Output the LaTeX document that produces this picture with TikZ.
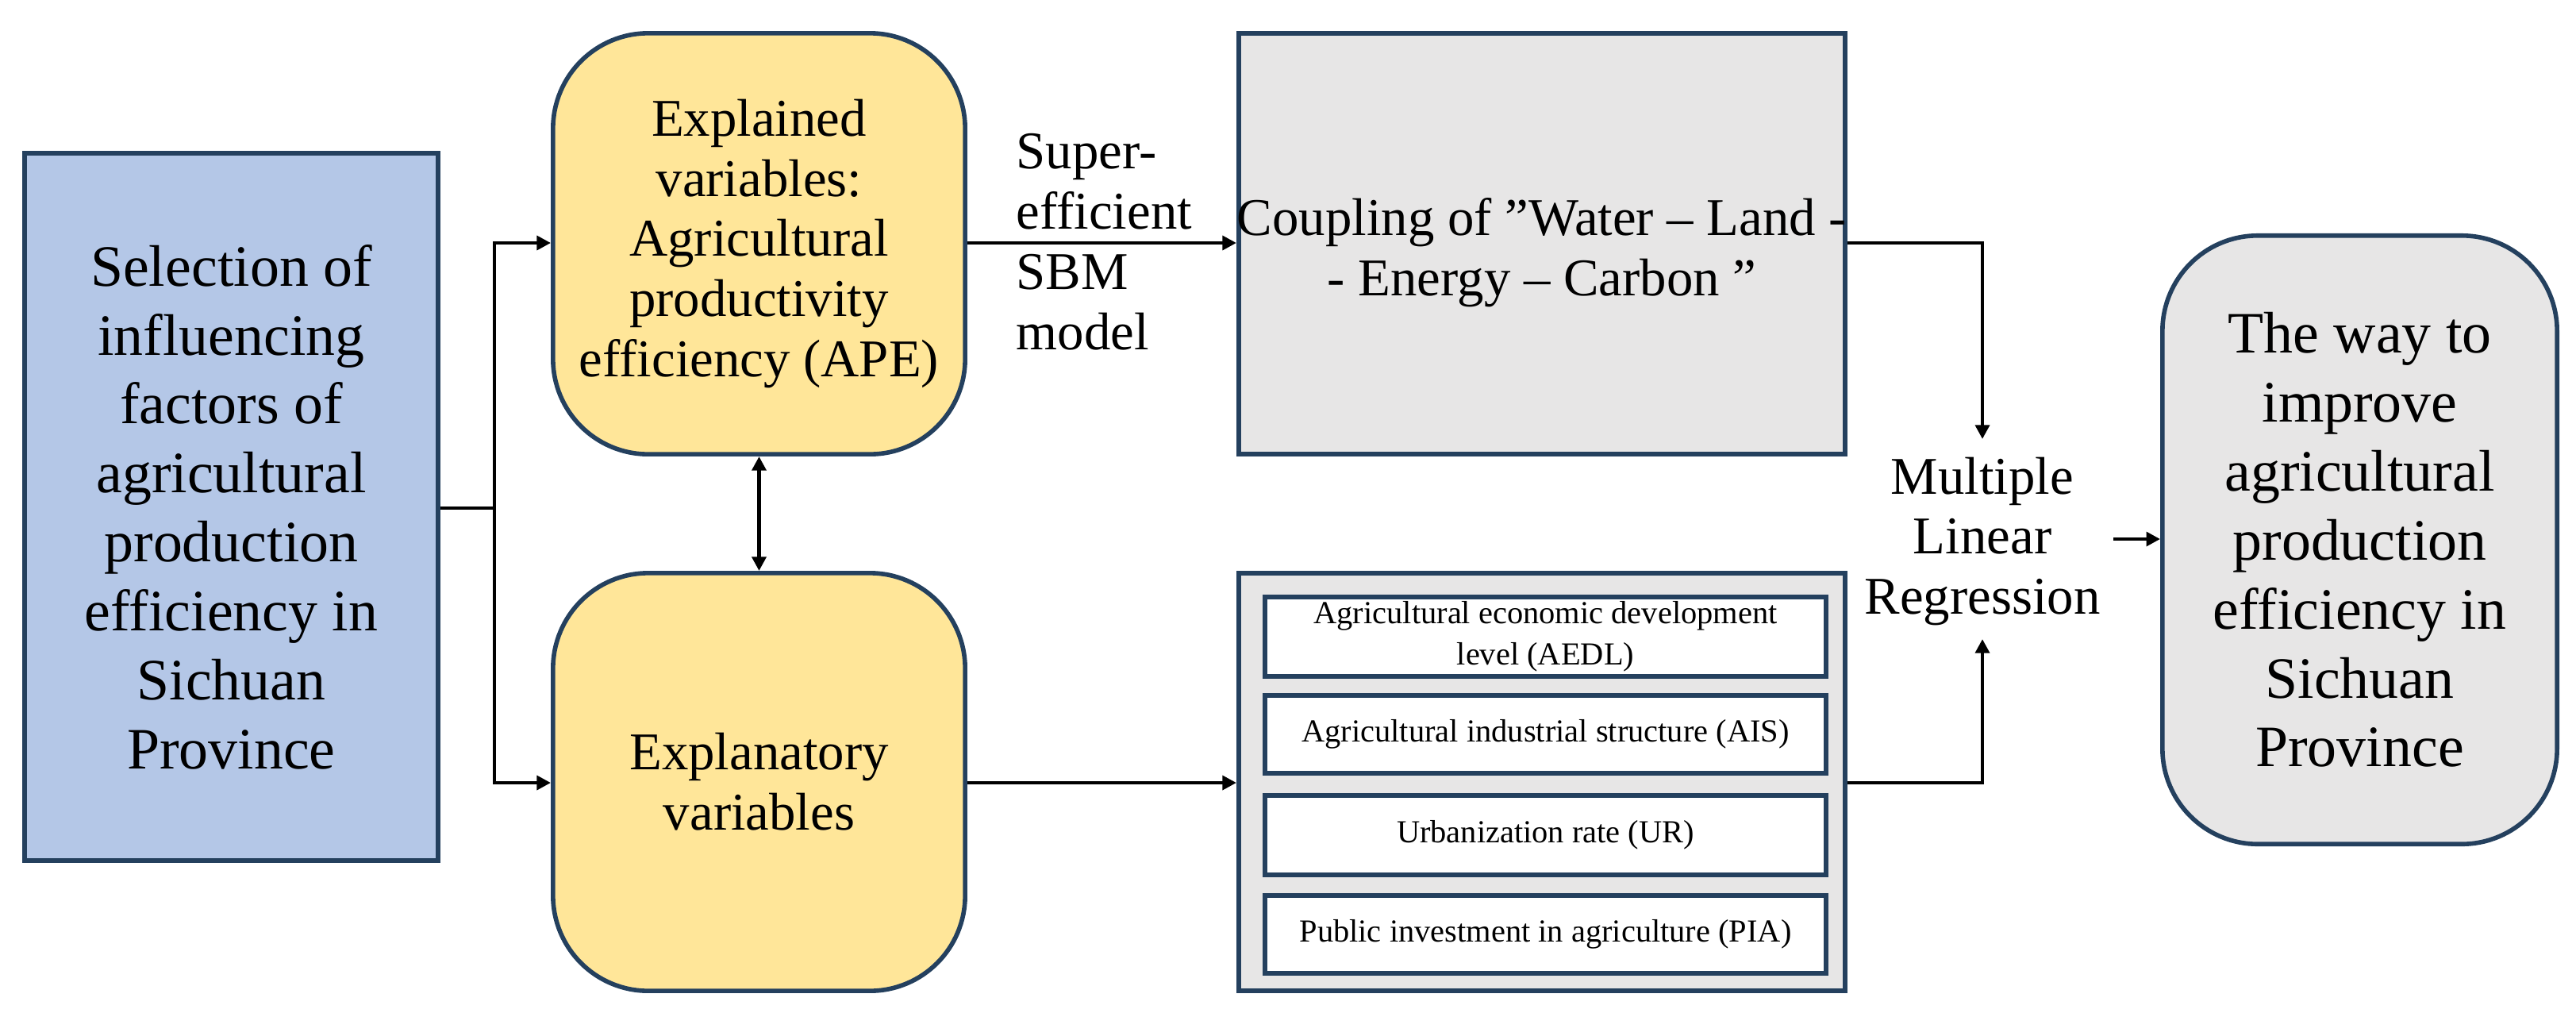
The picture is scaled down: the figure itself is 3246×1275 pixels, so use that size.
\documentclass[tikz,border=0pt]{standalone}
\usepackage{fontspec}
\setmainfont{Liberation Serif}
\usetikzlibrary{arrows.meta}
\definecolor{bordc}{HTML}{24405E}
\definecolor{bluef}{HTML}{B4C7E7}
\definecolor{yelf}{HTML}{FFE699}
\definecolor{grayf}{HTML}{E7E6E6}
\tikzset{
 box/.style={draw=bordc,line width=1.6pt,align=center,inner sep=0pt},
 conn/.style={line width=1.3pt,-{Triangle[length=5pt,width=5pt]}},
 bigtxt/.style={font=\fontsize{21}{24.7}\selectfont},
 midtxt/.style={font=\fontsize{19}{21.6}\selectfont},
 smalltxt/.style={font=\fontsize{11.5}{14.8}\selectfont},
}
\begin{document}
\begin{tikzpicture}[x=0.01cm,y=-0.01cm]
\useasboundingbox (0,0) rectangle (3246,1275);
\node[box,fill=bluef,bigtxt,minimum width=5.21cm,minimum height=8.91cm] (sel) at (291.5,638.5)
 {Selection of\\influencing\\factors of\\agricultural\\production\\efficiency in\\Sichuan\\Province};
\node[box,fill=yelf,midtxt,rounded corners=1.2cm,minimum width=5.19cm,minimum height=5.30cm] (ape) at (956.5,307)
 {Explained\\variables:\\Agricultural\\productivity\\efficiency (APE)};
\node[box,fill=yelf,midtxt,rounded corners=1.2cm,minimum width=5.19cm,minimum height=5.26cm] (expl) at (956.5,985)
 {Explanatory\\variables};
\node[box,fill=grayf,minimum width=7.64cm,minimum height=5.30cm] (coup) at (1943,307) {};
\node[midtxt,align=center] (couptxt) at (1943,318) {Coupling of "Water -- Land -\\- Energy -- Carbon "};
\node[box,fill=grayf,minimum width=7.64cm,minimum height=5.26cm] (vars) at (1943,985) {};
\node[box,fill=white,smalltxt,minimum width=7.07cm,minimum height=1.00cm] (v1) at (1947.5,802) {Agricultural economic development\\level (AEDL)};
\node[box,fill=white,smalltxt,minimum width=7.07cm,minimum height=0.98cm] (v2) at (1947.5,925) {Agricultural industrial structure (AIS)};
\node[box,fill=white,smalltxt,minimum width=7.07cm,minimum height=1.00cm] (v3) at (1947.5,1052) {Urbanization rate (UR)};
\node[box,fill=white,smalltxt,minimum width=7.07cm,minimum height=0.98cm] (v4) at (1947.5,1177) {Public investment in agriculture (PIA)};
\node[midtxt,align=center,inner sep=0pt] (mlr) at (2498,682) {Multiple\\Linear\\Regression};
\node[box,fill=grayf,bigtxt,rounded corners=1.2cm,minimum width=4.97cm,minimum height=7.66cm] (way) at (2973.5,680)
 {The way to\\improve\\agricultural\\production\\efficiency in\\Sichuan\\Province};
\node[midtxt,align=left,anchor=north west,inner sep=0pt] (sbm) at (1280,168) {Super-\\efficient\\SBM\\model};
\coordinate (bus) at (623,640);
\draw[line width=1.3pt] (sel.east|-bus) -- (bus);
\draw[conn] (bus) |- (ape.west|-0,306);
\draw[conn] (bus) |- (expl.west|-0,986);
\draw[line width=1.3pt,{Triangle[length=5pt,width=5pt]}-{Triangle[length=5pt,width=5pt]}] (ape.south) -- (expl.north);
\draw[conn] (ape.east|-0,306) -- (coup.west|-0,306);
\draw[conn] (expl.east|-0,986) -- (vars.west|-0,986);
\draw[conn] (coup.east|-0,306) -| (2498,553);
\draw[conn] (vars.east|-0,986) -| (2498,805);
\draw[conn] (2663,679) -- (way.west|-0,679);
\end{tikzpicture}
\end{document}
